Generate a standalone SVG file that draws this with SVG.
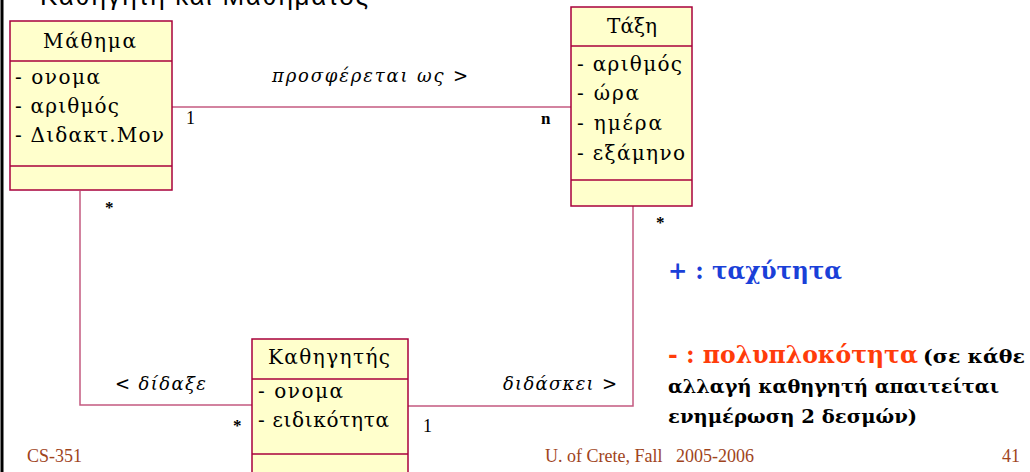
<svg xmlns="http://www.w3.org/2000/svg" width="1030" height="472" viewBox="0 0 1030 472">
<style>
.box{fill:#ffffcc;stroke:#a8003c;stroke-width:1.5}
.div{stroke:#a8003c;stroke-width:1.5}
.conn{fill:none;stroke:#c45a80;stroke-width:1.5}
.t{font-family:"DejaVu Serif","Liberation Serif",serif;font-size:20px;fill:#000}
.lab{font-family:"DejaVu Serif","Liberation Serif",serif;font-size:18px;font-style:italic;fill:#000}
.mul{font-family:"Liberation Serif",serif;font-size:18px;fill:#000}
.mulb{font-family:"Liberation Serif",serif;font-size:17px;font-weight:bold;fill:#000}
.foot{font-family:"Liberation Serif",serif;font-size:18px;fill:#a0441c;white-space:pre}
.big{font-family:"DejaVu Serif","Liberation Serif",serif;font-weight:bold}
</style>
<rect width="1030" height="472" fill="#fff"/>
<line x1="2" y1="0" x2="2" y2="472" stroke="#000" stroke-width="3"/>
<text x="40" y="5" font-family="Liberation Sans,DejaVu Sans,sans-serif" font-size="26" fill="#000" textLength="328" lengthAdjust="spacing">Καθηγητή και Μαθήματος</text>

<g id="connectors">
<line class="conn" x1="172" y1="107" x2="571" y2="107"/>
<polyline class="conn" points="80,191 80,405 252,405"/>
<polyline class="conn" points="633,206 633,406 408,406"/>
<text class="lab" x="272" y="82" textLength="196" lengthAdjust="spacing">προσφέρεται ως &gt;</text>
<text class="mul" x="186" y="124">1</text>
<text class="mulb" x="541" y="124">n</text>
<text class="mulb" x="105" y="213">*</text>
<text class="lab" x="115" y="390" textLength="91" lengthAdjust="spacing">&lt; δίδαξε</text>
<text class="mulb" x="233" y="431">*</text>
<text class="lab" x="503" y="390" textLength="114" lengthAdjust="spacing">διδάσκει &gt;</text>
<text class="mul" x="423" y="432">1</text>
<text class="mulb" x="656" y="228">*</text>
</g>

<g id="mathima">
<rect class="box" x="10" y="21" width="162" height="169"/>
<line class="div" x1="10" y1="61" x2="172" y2="61"/>
<line class="div" x1="10" y1="166" x2="172" y2="166"/>
<text class="t" x="43" y="48" textLength="93" lengthAdjust="spacing">Μάθημα</text>
<text class="t" x="15" y="84" textLength="85" lengthAdjust="spacing">- ονομα</text>
<text class="t" x="15" y="113" textLength="104" lengthAdjust="spacing">- αριθμός</text>
<text class="t" x="15" y="142" textLength="149" lengthAdjust="spacing">- Διδακτ.Μον</text>
</g>

<g id="taxi">
<rect class="box" x="571" y="7" width="121" height="199"/>
<line class="div" x1="571" y1="46" x2="692" y2="46"/>
<line class="div" x1="571" y1="180" x2="692" y2="180"/>
<text class="t" x="607" y="33" textLength="50" lengthAdjust="spacing">Τάξη</text>
<text class="t" x="577" y="71" textLength="105" lengthAdjust="spacing">- αριθμός</text>
<text class="t" x="577" y="100" textLength="62" lengthAdjust="spacing">- ώρα</text>
<text class="t" x="577" y="130" textLength="85" lengthAdjust="spacing">- ημέρα</text>
<text class="t" x="577" y="160" textLength="108" lengthAdjust="spacing">- εξάμηνο</text>
</g>

<g id="kathigitis">
<rect class="box" x="252" y="339" width="156" height="140"/>
<line class="div" x1="252" y1="379" x2="408" y2="379"/>
<line class="div" x1="252" y1="454" x2="408" y2="454"/>
<text class="t" x="268" y="364" textLength="122" lengthAdjust="spacing">Καθηγητής</text>
<text class="t" x="258" y="398" textLength="85" lengthAdjust="spacing">- ονομα</text>
<text class="t" x="258" y="427" textLength="131" lengthAdjust="spacing">- ειδικότητα</text>
</g>

<g id="notes">
<text class="big" x="668" y="279" font-size="24" fill="#1a40d8" textLength="174" lengthAdjust="spacingAndGlyphs">+ : ταχύτητα</text>
<text class="big" x="668" y="363" font-size="24" fill="#ff3c0a" textLength="250" lengthAdjust="spacingAndGlyphs">- : πολυπλοκότητα</text>
<text class="big" x="923" y="363" font-size="19" fill="#000" textLength="102" lengthAdjust="spacingAndGlyphs">(σε κάθε</text>
<text class="big" x="668" y="393" font-size="19" fill="#000" textLength="331" lengthAdjust="spacingAndGlyphs">αλλαγή καθηγητή απαιτείται</text>
<text class="big" x="668" y="423" font-size="19" fill="#000" textLength="249" lengthAdjust="spacingAndGlyphs">ενημέρωση 2 δεσμών)</text>
</g>

<g id="footer">
<text class="foot" x="27" y="462">CS-351</text>
<text class="foot" x="545" y="462" xml:space="preserve">U. of Crete, Fall   2005-2006</text>
<text class="foot" x="1002" y="462">41</text>
</g>
</svg>
